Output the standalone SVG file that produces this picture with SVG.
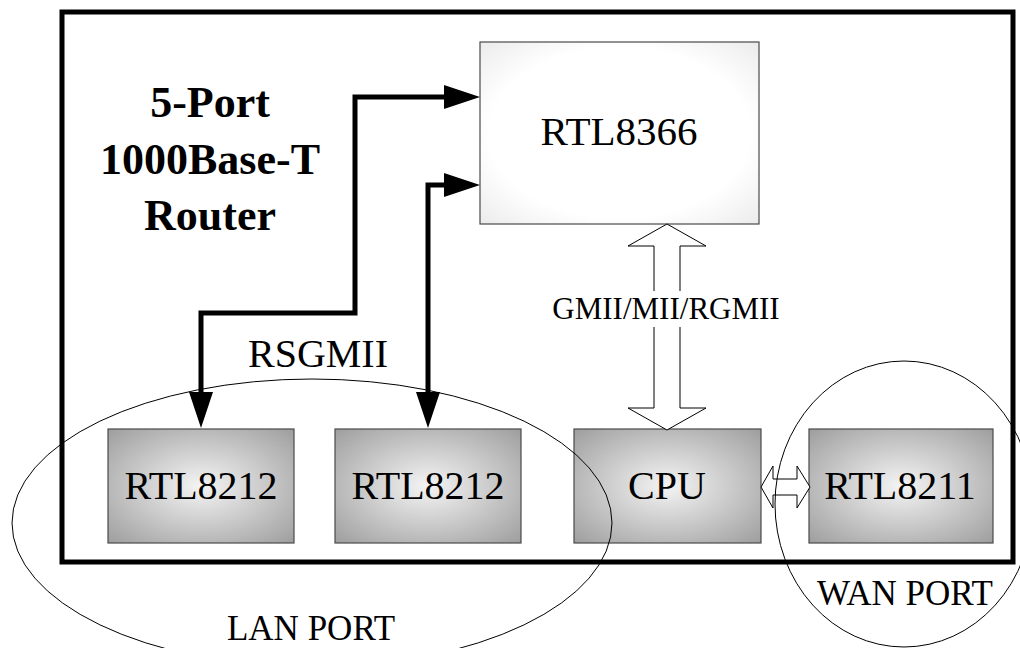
<svg xmlns="http://www.w3.org/2000/svg" width="1020" height="648" viewBox="0 0 1020 648">
  <defs>
    <radialGradient id="gGray" cx="0.5" cy="0.5" r="0.72">
      <stop offset="0" stop-color="#f4f4f4"/>
      <stop offset="1" stop-color="#9c9c9c"/>
    </radialGradient>
    <radialGradient id="gWhite" cx="0.5" cy="0.5" r="0.72">
      <stop offset="0.65" stop-color="#ffffff"/>
      <stop offset="1" stop-color="#eaeaea"/>
    </radialGradient>
    <style>
      .lbl { font-family: "Liberation Serif", "Times New Roman", serif; fill: #000; text-anchor: middle; }
      .title { font-family: "Liberation Serif", "Times New Roman", serif; font-weight: bold; font-size: 44px; text-anchor: middle; fill: #000; }
      .chip { fill: url(#gGray); stroke: #4a4a4a; stroke-width: 1.2; }
      .thick { fill: none; stroke: #000; stroke-width: 5; stroke-linejoin: miter; }
      .head { fill: #000; stroke: none; }
      .hollow { fill: #fff; stroke: #000; stroke-width: 1; stroke-linejoin: miter; }
      .port { fill: none; stroke: #000; stroke-width: 1; }
    </style>
  </defs>
  <rect x="0" y="0" width="1020" height="648" fill="#fff"/>

  <!-- outer frame -->
  <g id="frame">
    <rect x="62" y="12" width="951" height="550" fill="none" stroke="#000" stroke-width="5"/>
  </g>

  <!-- title -->
  <g id="title">
    <text class="title" x="210" y="117">5-Port</text>
    <text class="title" x="210" y="174">1000Base-T</text>
    <text class="title" x="210" y="230">Router</text>
  </g>

  <!-- nodes -->
  <g id="rtl8366">
    <rect x="480" y="42" width="279" height="182" fill="url(#gWhite)" stroke="#4a4a4a" stroke-width="1.2"/>
    <text class="lbl" x="619" y="145" font-size="41">RTL8366</text>
  </g>
  <g id="rtl8212a">
    <rect class="chip" x="108" y="429" width="186" height="114"/>
    <text class="lbl" x="201" y="499" font-size="40">RTL8212</text>
  </g>
  <g id="rtl8212b">
    <rect class="chip" x="335" y="429" width="186" height="114"/>
    <text class="lbl" x="428" y="499" font-size="40">RTL8212</text>
  </g>
  <g id="cpu">
    <rect class="chip" x="574" y="429" width="187" height="114"/>
    <text class="lbl" x="667" y="499" font-size="40">CPU</text>
  </g>
  <g id="rtl8211">
    <rect class="chip" x="809" y="429" width="184" height="114"/>
    <text class="lbl" x="900" y="499" font-size="40">RTL8211</text>
  </g>

  <!-- connectors -->
  <g id="connectors">
    <path class="thick" d="M446,97 H355 V313 H201 V394"/>
    <polygon class="head" points="480,97 444,85 444,109"/>
    <polygon class="head" points="201,428 189,392 213,392"/>
    <path class="thick" d="M446,185 H428 V394"/>
    <polygon class="head" points="480,185 444,173 444,197"/>
    <polygon class="head" points="428,428 416,392 440,392"/>

    <polygon class="hollow" points="667,224 706,246 680,246 680,408 706,408 667,430 628,408 654,408 654,246 628,246"/>
    <rect x="551" y="291" width="229" height="36" fill="#fff"/>
    <text class="lbl" x="666" y="319" font-size="31">GMII/MII/RGMII</text>

    <polygon class="hollow" points="761,487 773,466 773,479 797,479 797,466 810,487 797,508 797,495 773,495 773,508"/>
    <text class="lbl" x="318" y="367" font-size="40">RSGMII</text>
  </g>

  <!-- port groupings -->
  <g id="lan-port">
    <ellipse class="port" cx="312" cy="523" rx="300" ry="144"/>
    <text class="lbl" x="311" y="640" font-size="35">LAN PORT</text>
  </g>
  <g id="wan-port">
    <ellipse class="port" cx="904" cy="504" rx="129" ry="143"/>
    <text class="lbl" x="905" y="605" font-size="35">WAN PORT</text>
  </g>
</svg>
